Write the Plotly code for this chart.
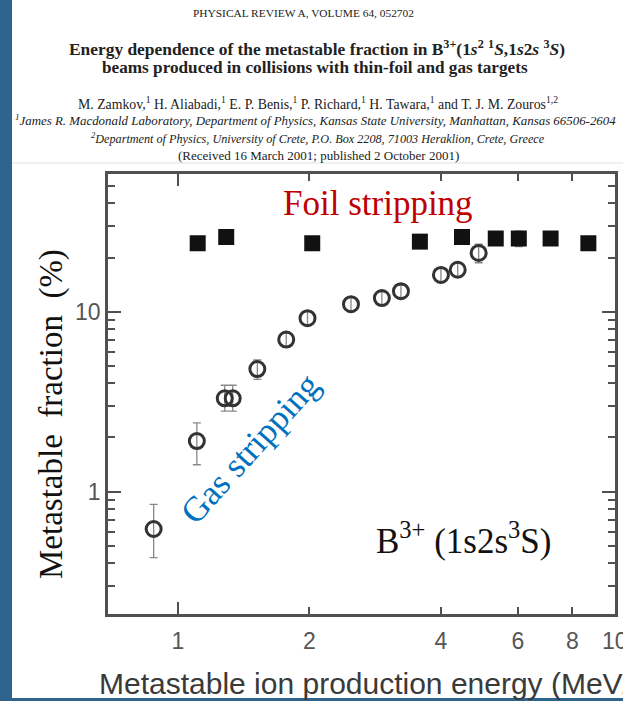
import plotly.graph_objects as go

# ---- data: metastable fraction (%) vs. production energy (MeV) ----
foil_energy = [1.11, 1.29, 2.03, 3.58, 4.47, 5.34, 6.03, 7.13, 8.70]
foil_fraction = [24.0, 26.0, 24.0, 24.5, 26.0, 25.5, 25.5, 25.5, 24.0]
foil_err = [2.0, 2.0, 2.0, 2.0, 2.0, 2.0, 2.5, 2.0, 2.0]

gas_energy = [0.88, 1.105, 1.28, 1.335, 1.52, 1.77, 1.98, 2.49, 2.93, 3.24, 4.0, 4.37, 4.88]
gas_fraction = [0.62, 1.91, 3.3, 3.3, 4.8, 7.0, 9.2, 11.0, 11.9, 13.0, 16.0, 17.1, 21.2]
gas_err_plus = [0.23, 0.5, 0.6, 0.6, 0.6, 0.6, 0.8, 1.0, 1.0, 1.0, 1.5, 1.5, 2.5]
gas_err_minus = [0.19, 0.5, 0.5, 0.5, 0.6, 0.6, 0.8, 1.0, 1.0, 1.0, 1.5, 1.5, 2.5]

x_ticks = [1, 2, 4, 6, 8, 10]
x_long_ticks = [1, 10]
y_major = [1, 10]
y_minor = [0.3, 0.4, 0.5, 0.6, 0.7, 0.8, 0.9, 2, 3, 4, 5, 6, 7, 8, 9, 20, 30, 40, 50]

W, H = 623, 701
L, R, T, B = 108, 8, 174, 87
PW, PH = W - L - R, H - T - B


def px(x):
    return (x - L) / PW


def py(y):
    return (H - B - y) / PH


SERIF = "Liberation Serif, Times New Roman, serif"
SANS = "Liberation Sans, Arial, sans-serif"
AXIS_GREY = "#505050"
X_RANGE = [-0.16, 1.0005]

fig = go.Figure()

fig.add_trace(go.Scatter(
    x=foil_energy, y=foil_fraction, mode="markers",
    marker=dict(symbol="square", size=16, color="#111"),
    error_y=dict(type="data", array=foil_err, color="#888", thickness=1.3, width=4),
    showlegend=False,
))
fig.add_trace(go.Scatter(
    x=gas_energy, y=gas_fraction, mode="markers",
    marker=dict(symbol="circle-open", size=15, color="#333", line=dict(width=3, color="#333")),
    error_y=dict(type="data", array=gas_err_plus, arrayminus=gas_err_minus,
                 color="#888", thickness=1.3, width=4),
    showlegend=False,
))
# invisible trace tying the secondary x axis (long decade ticks) to the plot
fig.add_trace(go.Scatter(x=[1], y=[1], xaxis="x2", mode="markers",
                         marker=dict(opacity=0), hoverinfo="skip", showlegend=False))

axis_common = dict(
    type="log", showgrid=False, zeroline=False,
    showline=True, linecolor=AXIS_GREY, linewidth=2.5,
    ticks="inside", mirror="ticks", tickcolor=AXIS_GREY, tickwidth=1.8,
    tickfont=dict(family=SANS, size=23, color="#555"),
    ticklabeloverflow="allow",
)

fig.update_layout(
    xaxis=dict(
        **axis_common,
        range=X_RANGE,
        tickmode="array", tickvals=x_ticks, ticktext=[str(v) for v in x_ticks],
        ticklen=7, ticklabelstandoff=5,
    ),
    xaxis2=dict(
        type="log", range=X_RANGE, overlaying="x", side="bottom",
        showgrid=False, zeroline=False, showline=False,
        ticks="inside", mirror="ticks", ticklen=12, tickwidth=1.8, tickcolor=AXIS_GREY,
        tickmode="array", tickvals=x_long_ticks, showticklabels=False,
    ),
    yaxis=dict(
        **axis_common,
        range=[-0.68, 1.765],
        tickmode="array", tickvals=y_major, ticktext=[str(v) for v in y_major],
        ticklen=13, ticklabelstandoff=0,
        minor=dict(tickmode="array", tickvals=y_minor, ticks="inside", ticklen=7,
                   tickcolor=AXIS_GREY, tickwidth=1.8, showgrid=False),
    ),
)

shapes = [
    # white page over the blue frame
    dict(type="rect", xref="paper", yref="paper", layer="below",
         x0=px(12), x1=px(W + 5), y0=py(698), y1=py(-5),
         fillcolor="white", line=dict(width=0)),
    # faint rule between header and figure
    dict(type="line", xref="paper", yref="paper", layer="below",
         x0=px(12), x1=px(W), y0=py(163), y1=py(163),
         line=dict(color="#e2e2e2", width=1)),
]

ann = []


def text(x, y, s, size, family=SERIF, color="#222", xanchor="center", angle=0):
    ann.append(dict(x=px(x), y=py(y), xref="paper", yref="paper", text=s,
                    showarrow=False, xanchor=xanchor, yanchor="middle",
                    textangle=angle,
                    font=dict(family=family, size=size, color=color)))


# article header
text(303, 13, "PHYSICAL REVIEW A, VOLUME 64, 052702", 11.4)
text(317, 48, "<b>Energy dependence of the metastable fraction in B<sup>3+</sup>"
              "(1<i>s</i><sup>2</sup> <sup>1</sup><i>S</i>,1<i>s</i>2<i>s</i> "
              "<sup>3</sup><i>S</i>)</b>", 17.4)
text(315, 68, "<b>beams produced in collisions with thin-foil and gas targets</b>", 17.2)
text(318, 103, "M. Zamkov,<sup>1</sup> H. Aliabadi,<sup>1</sup> E. P. Benis,<sup>1</sup> "
               "P. Richard,<sup>1</sup> H. Tawara,<sup>1</sup> and T. J. M. Zouros<sup>1,2</sup>", 13.8)
text(13, 120, "<i><sup>1</sup>James R. Macdonald Laboratory, Department of Physics, "
              "Kansas State University, Manhattan, Kansas 66506-2604</i>", 12.9, xanchor="left")
text(318, 138, "<i><sup>2</sup>Department of Physics, University of Crete, P.O. Box 2208, "
               "71003 Heraklion, Crete, Greece</i>", 12.2)
text(318, 155, "(Received 16 March 2001; published 2 October 2001)", 13)

# figure labels
text(51, 414, "Metastable\u00a0\u00a0fraction\u00a0\u00a0(%)", 33, color="#111", angle=-90)
text(97, 683, "Metastable ion production energy (MeV/u)", 30, family=SANS,
     color="#3a3a3a", xanchor="left")
text(378, 203, "Foil stripping", 35, color="#c00000")
text(250, 448, "Gas stripping", 35, color="#0070c0", angle=-48)
text(463, 538, "B<sup>3+</sup> (1s2s<sup>3</sup>S)", 35, color="#111")

fig.update_layout(
    width=W, height=H,
    margin=dict(l=L, r=R, t=T, b=B, autoexpand=False),
    paper_bgcolor="#2f648e",
    plot_bgcolor="white",
    shapes=shapes,
    annotations=ann,
)

fig.write_html("out.html", config={"displayModeBar": False})
